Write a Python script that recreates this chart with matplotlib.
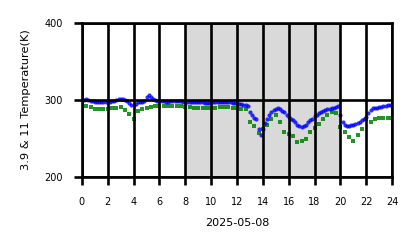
import numpy as np
import matplotlib
matplotlib.use('Agg')
import matplotlib.pyplot as plt

# --- data (hours of 2025-05-08) ---
# 3.9 um channel, every 10 min
blue_temp = [
    300, 300, 301, 300, 299, 299,
    298, 297, 297, 297, 297, 298,
    298, 298, 299, 299, 300, 301,
    302, 301, 300, 299, 296, 294,
    293, 295, 297, 297, 298, 299,
    304, 306, 304, 302, 300, 299,
    299, 299, 299, 298, 298, 299,
    299, 299, 299, 299, 299, 298,
    298, 298, 298, 297, 297, 297,
    297, 297, 297, 296, 296, 296,
    297, 297, 297, 297, 297, 297,
    297, 297, 297, 297, 296, 296,
    296, 295, 295, 294, 293, 292,
    285, 280, 277, 275, 262, 255,
    262, 270, 275, 280, 284, 287,
    289, 290, 288, 286, 284, 281,
    278, 276, 274, 271, 268, 266,
    265, 266, 268, 271, 274, 276,
    279, 281, 283, 284, 286, 287,
    288, 289, 290, 290, 291, 292,
    280, 272, 267, 266, 266, 267,
    268, 269, 270, 272, 274, 276,
    278, 283, 287, 290, 290, 290,
    291, 291, 292, 292, 293, 293,
    294,
]
blue_hours = np.arange(len(blue_temp)) / 6.0

# 11 um channel, every 20 min
green_temp = [
    293, 292, 291,
    289, 288, 289,
    289, 290, 290,
    291, 287, 282,
    276, 286, 289,
    290, 291, 292,
    292, 292, 292,
    292, 292, 292,
    291, 291, 290,
    290, 290, 290,
    290, 290, 291,
    291, 291, 290,
    290, 289, 288,
    271, 266, 257,
    262, 268, 275,
    280, 271, 259,
    256, 253, 245,
    247, 250, 258,
    264, 269, 276,
    280, 285, 283,
    265, 259, 252,
    247, 255, 262,
    275, 271, 276,
    277, 277, 277,
    277,
]
green_hours = np.arange(len(green_temp)) / 3.0

night_start, night_end = 8, 20
x_ticks = list(range(0, 25, 2))
y_ticks = [200, 300, 400]

fig = plt.figure(figsize=(4.18, 2.48), dpi=100)
ax = fig.add_axes([0.196, 0.286, 0.742, 0.621])

ax.axvspan(night_start, night_end, color='#d9d9d9', zorder=0, lw=0)

ax.plot(green_hours, green_temp, 's', color='green', markersize=2.8,
        alpha=0.85, mew=0, zorder=1)
ax.plot(blue_hours, blue_temp, 'o', color='blue', markersize=3.0,
        alpha=0.8, mew=0, zorder=1.5)

ax.set_xlim(0, 24)
ax.set_ylim(200, 400)
ax.set_xticks(x_ticks)
ax.set_yticks(y_ticks)
# grid is drawn over the points, as in the source chart
ax.set_axisbelow(False)
ax.grid(True, color='black', linewidth=1.9)

for sp in ax.spines.values():
    sp.set_linewidth(1.9)
ax.tick_params(width=1.9, length=6, pad=8, labelsize=7)

ax.set_xlabel('2025-05-08', fontsize=8, labelpad=8)
ax.set_ylabel('3.9 & 11 Temperature(K)', fontsize=8.2, labelpad=9)

fig.savefig('out.png', dpi=100)
